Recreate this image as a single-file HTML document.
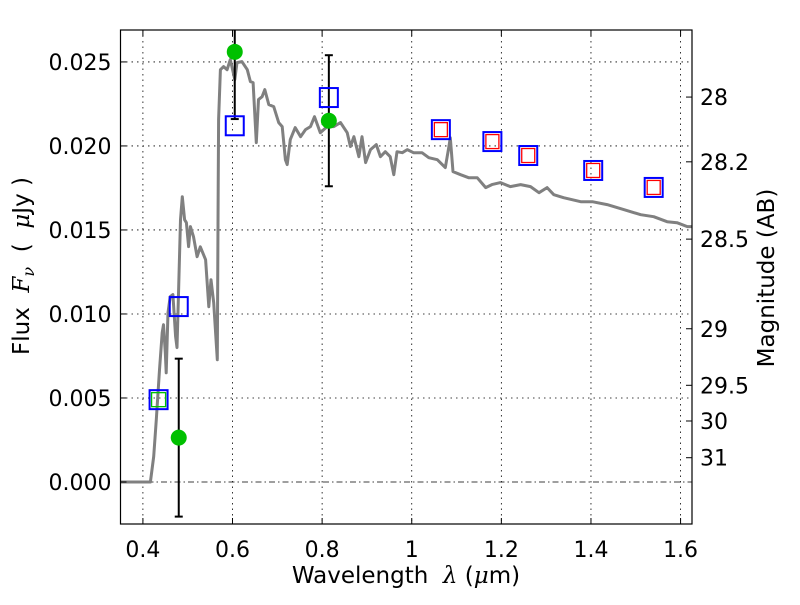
<!DOCTYPE html>
<html><head><meta charset="utf-8"><style>
body{margin:0;background:#fff}
svg text{font-family:"DejaVu Sans","Liberation Sans",sans-serif;fill:#000;white-space:pre}
</style></head><body>
<svg id="chart" width="800" height="600" viewBox="0 0 800 600" xmlns="http://www.w3.org/2000/svg"></svg>
<script>
const specWave=[0.350,0.4167,0.424,0.430,0.437,0.443,0.446,0.450,0.452,0.456,0.461,0.467,0.473,0.476,0.480,0.484,0.488,0.493,0.497,0.502,0.506,0.513,0.521,0.528,0.540,0.547,0.552,0.558,0.566,0.568,0.569,0.573,0.580,0.588,0.595,0.605,0.610,0.621,0.633,0.640,0.646,0.653,0.658,0.666,0.672,0.681,0.692,0.703,0.711,0.718,0.722,0.729,0.740,0.752,0.763,0.774,0.783,0.796,0.811,0.826,0.841,0.856,0.863,0.871,0.882,0.889,0.897,0.908,0.921,0.930,0.941,0.952,0.960,0.967,0.979,0.990,1.004,1.023,1.038,1.057,1.075,1.083,1.086,1.092,1.109,1.127,1.146,1.165,1.179,1.198,1.220,1.243,1.265,1.284,1.302,1.317,1.339,1.377,1.403,1.436,1.473,1.511,1.540,1.570,1.592,1.615,1.629];
const specFlux=[0,0,0.00152,0.00371,0.00668,0.00889,0.00936,0.0077,0.0065,0.01008,0.01103,0.01115,0.00865,0.0080,0.01163,0.01561,0.01698,0.01561,0.01543,0.01401,0.0152,0.0146,0.01341,0.0140,0.01323,0.01043,0.01204,0.01067,0.00728,0.01758,0.02157,0.02454,0.02472,0.02454,0.02514,0.02395,0.02496,0.02502,0.02454,0.02383,0.02377,0.0202,0.02276,0.02293,0.02335,0.02246,0.02234,0.02139,0.02115,0.01918,0.01889,0.02038,0.02109,0.02055,0.02097,0.02115,0.02174,0.02079,0.02115,0.02115,0.02139,0.02079,0.01996,0.02055,0.01936,0.02055,0.01901,0.01978,0.02008,0.01936,0.01966,0.01936,0.01829,0.01966,0.0196,0.01978,0.0196,0.0196,0.0193,0.01918,0.01871,0.01996,0.02049,0.01847,0.01829,0.01811,0.01811,0.01752,0.0177,0.01782,0.01758,0.0177,0.01758,0.01722,0.01752,0.0171,0.01692,0.01668,0.01668,0.01651,0.01621,0.01591,0.01579,0.01549,0.01543,0.0152,0.0152];
const modelWave=[0.435,0.48,0.605,0.815,1.065,1.18,1.26,1.405,1.54];
const modelFlux=[0.0049,0.01044,0.0212,0.02288,0.02097,0.02026,0.01943,0.01854,0.01753];
const nirWave=[1.065,1.18,1.26,1.405,1.54];
const nirFlux=[0.02097,0.02026,0.01943,0.01854,0.01753];
const greenSqWave=[0.435];
const greenSqFlux=[0.0049];
const obsWave=[0.48,0.605,0.815];
const obsFlux=[0.00264,0.0256,0.0215];
const obsErr=[0.0047,0.004,0.0039];
const xTicks=[0.4,0.6,0.8,1.0,1.2,1.4,1.6];
const xTickLabels=["0.4","0.6","0.8","1","1.2","1.4","1.6"];
const yTicks=[0,0.005,0.01,0.015,0.02,0.025];
const yTickLabels=["0.000","0.005","0.010","0.015","0.020","0.025"];
const magTicks=[28,28.2,28.5,29,29.5,30,31];
const magTickLabels=["28","28.2","28.5","29","29.5","30","31"];

const L=120.5,R=692,T=30,B=524;
const xmin=0.35,xmax=1.6255,ymin=-0.0025,ymax=0.0269;
const X=v=>L+(v-xmin)/(xmax-xmin)*(R-L);
const Y=v=>B-(v-ymin)/(ymax-ymin)*(B-T);
const svg=document.getElementById('chart');
const NS='http://www.w3.org/2000/svg';
function mk(tag,attrs,parent){const e=document.createElementNS(NS,tag);for(const k in attrs)e.setAttribute(k,attrs[k]);(parent||svg).appendChild(e);return e;}

const clip=mk('clipPath',{id:'pc'});mk('rect',{x:L,y:T,width:R-L,height:B-T},clip);
const grid=mk('g',{});


xTicks.forEach(t=>{mk('line',{x1:X(t),x2:X(t),y1:T,y2:B,stroke:'#000','stroke-width':0.8,'stroke-dasharray':'1.5,4'},grid);});
yTicks.forEach(t=>{if(t!==0)mk('line',{x1:L,x2:R,y1:Y(t),y2:Y(t),stroke:'#000','stroke-width':0.8,'stroke-dasharray':'1.5,4'},grid);});
const zl=mk('line',{x1:L,x2:R,y1:Y(0),y2:Y(0),stroke:'#000','stroke-width':0.8,'stroke-dasharray':'6,3,1.5,3'});



const pts=specWave.map((w,i)=>X(w).toFixed(1)+','+Y(specFlux[i]).toFixed(1)).join(' ');
const sp=mk('polyline',{points:pts,fill:'none',stroke:'#808080','stroke-width':3,'stroke-linejoin':'round','clip-path':'url(#pc)'});



obsWave.forEach((w,i)=>{
 const g=mk('g',{'clip-path':'url(#pc)'});
 
 
 const x=X(w),y0=Y(obsFlux[i]-obsErr[i]),y1=Y(obsFlux[i]+obsErr[i]);
 mk('line',{x1:x,x2:x,y1:y0,y2:y1,stroke:'#000','stroke-width':2},g);
 mk('line',{x1:x-4,x2:x+4,y1:y0,y2:y0,stroke:'#000','stroke-width':2},g);
 mk('line',{x1:x-4,x2:x+4,y1:y1,y2:y1,stroke:'#000','stroke-width':2},g);
 mk('circle',{cx:x,cy:Y(obsFlux[i]),r:8,fill:'#00c000'},g);
});
modelWave.forEach((w,i)=>{
 const s=mk('rect',{x:X(w)-9,y:Y(modelFlux[i])-9.5,width:18,height:19,fill:'none',stroke:'#0000ff','stroke-width':2});
 
 
});
nirWave.forEach((w,i)=>{
 const s=mk('rect',{x:X(w)-6.5,y:Y(nirFlux[i])-7,width:13,height:14,fill:'none',stroke:'#ff0000','stroke-width':1.3});
 
 
});
greenSqWave.forEach((w,i)=>{
 const s=mk('rect',{x:X(w)-7,y:Y(greenSqFlux[i])-7,width:14,height:14,fill:'none',stroke:'#00c000','stroke-width':1.3});
 
 
});

const frame=mk('rect',{x:L,y:T,width:R-L,height:B-T,fill:'none',stroke:'#000','stroke-width':1.2});



xTicks.forEach((t,i)=>{
 mk('line',{x1:X(t),x2:X(t),y1:B,y2:B-6,stroke:'#000'});
 mk('line',{x1:X(t),x2:X(t),y1:T,y2:T+6,stroke:'#000'});
 const tx=mk('text',{x:X(t),y:B+33,'font-size':22,'text-anchor':'middle'});tx.textContent=xTickLabels[i];
 
 
});
yTicks.forEach((t,i)=>{
 mk('line',{x1:L,x2:L+6,y1:Y(t),y2:Y(t),stroke:'#000'});
 const tx=mk('text',{x:L-9,y:Y(t)+8,'font-size':22,'text-anchor':'end'});tx.textContent=yTickLabels[i];
 
 
});
magTicks.forEach((m,i)=>{
 const y=Y(Math.pow(10,(23.9-m)/2.5));
 mk('line',{x1:R,x2:R-6,y1:y,y2:y,stroke:'#000'});
 const tx=mk('text',{x:R+8,y:y+8,'font-size':22});tx.textContent=magTickLabels[i];
 
 
});

const xl=mk('text',{x:406,y:583,'font-size':23,'text-anchor':'middle'});
xl.innerHTML='Wavelength  <tspan font-style="italic" font-family="DejaVu Serif">λ</tspan> (<tspan font-style="italic" font-family="DejaVu Serif">μ</tspan>m)';


const yl=mk('text',{x:0,y:0,'font-size':23,'text-anchor':'middle',transform:'translate(29,266) rotate(-90)'});
yl.innerHTML='Flux  <tspan font-style="italic" font-family="DejaVu Serif">F</tspan><tspan font-style="italic" font-family="DejaVu Serif" font-size="16" dy="5">ν</tspan><tspan dy="-5">  (  </tspan><tspan font-style="italic" font-family="DejaVu Serif">μ</tspan>Jy )';


const rl=mk('text',{x:0,y:0,'font-size':23,'text-anchor':'middle',transform:'translate(774,278) rotate(-90)'});
rl.textContent='Magnitude (AB)';


</script>
</body></html>
